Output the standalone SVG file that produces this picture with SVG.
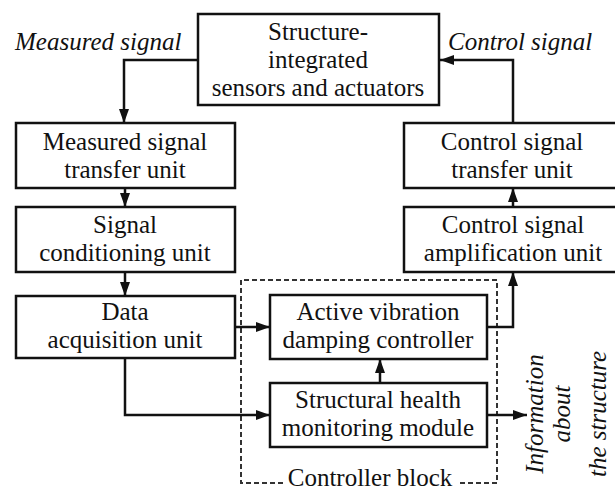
<svg xmlns="http://www.w3.org/2000/svg" width="615" height="492" viewBox="0 0 615 492">
<style>
.box{fill:#fff;stroke:#111;stroke-width:2.5}
text{font-family:"Liberation Serif","Times New Roman",serif;font-size:25px;fill:#111}
.t{text-anchor:middle}
.i{font-style:italic}
.c{fill:none;stroke:#111;stroke-width:2.5}
.d{fill:none;stroke:#333;stroke-width:2;stroke-dasharray:5 3}
</style>
<defs>
<marker id="a" viewBox="0 0 14 10" refX="14" refY="5" markerWidth="14" markerHeight="10" markerUnits="userSpaceOnUse" orient="auto">
<path d="M0,0 L14,5 L0,10 Z" fill="#111"/>
</marker>
</defs>
<rect width="615" height="492" fill="#fff"/>
<g id="controller-block">
<path class="d" d="M283,483 H241 V280 H497 V483 H458"/>
<text class="t" x="370" y="486">Controller block</text>
</g>
<g id="connectors">
<path class="c" d="M198,60 H124 V123" marker-end="url(#a)"/>
<path class="c" d="M513,123 V60 H440" marker-end="url(#a)"/>
<path class="c" d="M125,188 V207" marker-end="url(#a)"/>
<path class="c" d="M125,272 V296" marker-end="url(#a)"/>
<path class="c" d="M513,207 V188" marker-end="url(#a)"/>
<path class="c" d="M235,327 H270" marker-end="url(#a)"/>
<path class="c" d="M125,358 V415 H270" marker-end="url(#a)"/>
<path class="c" d="M380,383 V359" marker-end="url(#a)"/>
<path class="c" d="M487,327 H513 V272" marker-end="url(#a)"/>
<path class="c" d="M487,415 H527" marker-end="url(#a)"/>
</g>
<g id="structure">
<rect class="box" x="198" y="14" width="241" height="91"/>
<text class="t" x="318" y="40">Structure-</text>
<text class="t" x="318" y="68">integrated</text>
<text class="t" x="318" y="96">sensors and actuators</text>
</g>
<text class="i" x="15" y="50">Measured signal</text>
<text class="i" x="448" y="50">Control signal</text>
<g id="measured-transfer">
<rect class="box" x="16" y="123" width="219" height="65"/>
<text class="t" x="125" y="150">Measured signal</text>
<text class="t" x="125" y="178">transfer unit</text>
</g>
<g id="conditioning">
<rect class="box" x="16" y="207" width="219" height="65"/>
<text class="t" x="125" y="233">Signal</text>
<text class="t" x="125" y="261">conditioning unit</text>
</g>
<g id="acquisition">
<rect class="box" x="16" y="296" width="219" height="62"/>
<text class="t" x="125" y="320">Data</text>
<text class="t" x="125" y="348">acquisition unit</text>
</g>
<g id="control-transfer">
<rect class="box" x="404" y="123" width="220" height="65"/>
<text class="t" x="512" y="150">Control signal</text>
<text class="t" x="512" y="178">transfer unit</text>
</g>
<g id="amplification">
<rect class="box" x="404" y="207" width="220" height="65"/>
<text class="t" x="513" y="233">Control signal</text>
<text class="t" x="513" y="261">amplification unit</text>
</g>
<g id="avdc">
<rect class="box" x="270" y="295" width="217" height="64"/>
<text class="t" x="378" y="320">Active vibration</text>
<text class="t" x="378" y="348">damping controller</text>
</g>
<g id="shm">
<rect class="box" x="270" y="383" width="217" height="64"/>
<text class="t" x="378" y="408">Structural health</text>
<text class="t" x="378" y="436">monitoring module</text>
</g>
<g id="info">
<text class="t i" transform="translate(543,414) rotate(-90)">Information</text>
<text class="t i" transform="translate(570,414) rotate(-90)">about</text>
<text class="t i" transform="translate(606,414) rotate(-90)">the structure</text>
</g>
</svg>
